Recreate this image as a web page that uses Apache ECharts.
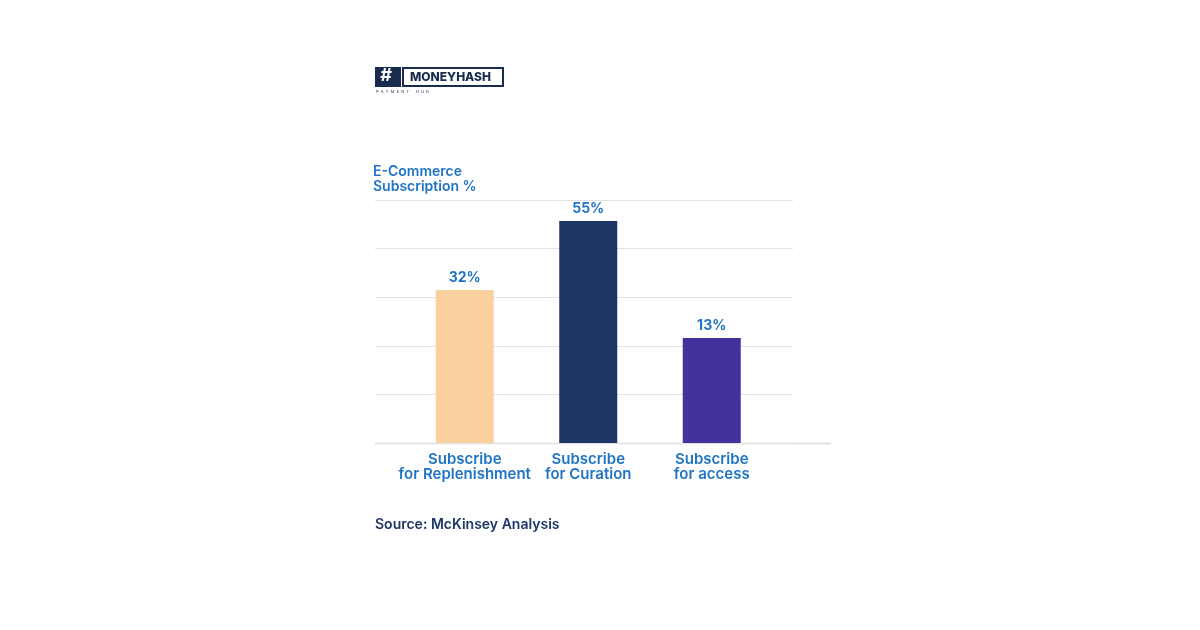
<!DOCTYPE html>
<html><head><meta charset="utf-8">
<script src="https://cdn.jsdelivr.net/npm/echarts@6/dist/echarts.min.js"></script>
<style>html,body{margin:0;background:#fff}#c{width:1200px;height:630px}</style>
</head><body><div id="c"></div>
<script>
var categories = ['Subscribe\nfor Replenishment', 'Subscribe\nfor Curation', 'Subscribe\nfor access'];
var valueLabels = ['32%', '55%', '13%'];
// bar heights as drawn in the picture, in gridline units (top gridline = 5)
var barHeights = [3.15, 4.57, 2.16];
var barColors = ['#fbd09f', '#1f3566', '#42329c'];

var blue = '#1f74c6';
var font = 'Inter';
var chart = echarts.init(document.getElementById('c'));
chart.setOption({
  backgroundColor: '#fff',
  textStyle: { fontFamily: font },
  grid: [
    { left: 403, top: 200, width: 370.5, height: 243 },
    { left: 375, top: 200, width: 418, height: 243 }
  ],
  xAxis: [
    { type: 'category', gridIndex: 0, data: categories,
      axisLine: { show: false }, axisTick: { show: false },
      axisLabel: { color: blue, fontSize: 15, fontWeight: 600, lineHeight: 15, margin: 9,
        interval: 0, hideOverlap: false } },
    { type: 'value', gridIndex: 1, show: false }
  ],
  yAxis: [
    { type: 'value', gridIndex: 0, min: 0, max: 5, show: false },
    { type: 'value', gridIndex: 1, min: 0, max: 5, interval: 1,
      axisLabel: { show: false }, axisLine: { show: false }, axisTick: { show: false },
      splitLine: { lineStyle: { color: '#e3e3e3', width: 1 } } }
  ],
  series: [{
    type: 'bar', xAxisIndex: 0, yAxisIndex: 0, barWidth: 58,
    data: barHeights.map(function (v, i) {
      return { value: v, itemStyle: { color: barColors[i] } };
    }),
    label: { show: true, position: 'top', distance: 5, color: blue, fontSize: 14, fontWeight: 700,
      formatter: function (p) { return valueLabels[p.dataIndex]; } }
  }],
  graphic: [
    { type: 'line', shape: { x1: 375, y1: 443.5, x2: 831, y2: 443.5 }, style: { stroke: '#dcdcdc', lineWidth: 1.5 } },
    { type: 'text', left: 373, top: 164, style: { text: 'E-Commerce\nSubscription %', fill: blue, font: '600 14px Inter', lineHeight: 15 } },
    { type: 'text', left: 375, top: 518, style: { text: 'Source: McKinsey Analysis', fill: '#1f3566', font: '600 14px Inter' } },
    { type: 'rect', shape: { x: 375, y: 67, width: 26, height: 20 }, style: { fill: '#1a2c4e' } },
    { type: 'text', left: 380, top: 67, style: { text: '#', fill: '#fff', font: 'italic 700 18px Inter' } },
    { type: 'rect', shape: { x: 403, y: 68, width: 100, height: 18 }, style: { fill: '#fff', stroke: '#1a2c4e', lineWidth: 2 } },
    { type: 'text', left: 410, top: 71, style: { text: 'MONEYHASH', fill: '#1a2c4e', font: '800 12px Inter' } },
    { type: 'text', left: 376, top: 90, style: { text: 'P  A  Y  M  E  N  T      H  U  B', fill: '#1a2c4e', font: '4px Inter' } }
  ]
});
</script></body></html>
